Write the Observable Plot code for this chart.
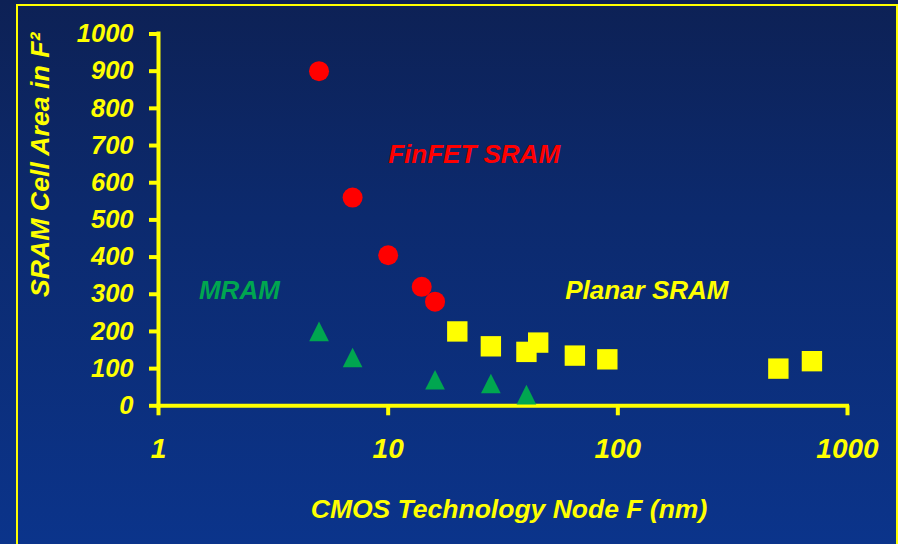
<!DOCTYPE html>
<html>
<head>
<meta charset="utf-8">
<script src="https://cdn.jsdelivr.net/npm/d3@7"></script>
<script src="https://cdn.jsdelivr.net/npm/@observablehq/plot@0.6"></script>
<style>
  html, body {
    margin: 0; padding: 0; width: 898px; height: 544px; overflow: hidden;
    background: linear-gradient(to bottom, #0d2155 0%, #0c2a6e 40%, #0b348b 100%);
  }
  #border {
    position: absolute; left: 16px; top: 4px; width: 882px; height: 640px;
    box-sizing: border-box; border: 2.5px solid #ffff00;
  }
  #chart { position: absolute; left: 0; top: 0; }
</style>
</head>
<body>
<div id="border"></div>
<div id="chart"></div>
<script>
// SRAM cell area (in F^2) versus CMOS technology node F (nm)
const finfetNode = [5, 7, 10, 14, 16];
const finfetArea = [900, 560, 405, 320, 280];

const mramNode = [5, 7, 16, 28, 40];
const mramArea = [200, 130, 70, 60, 30];

const planarNode = [20, 28, 40, 45, 65, 90, 500, 700];
const planarArea = [200, 160, 145, 170, 135, 125, 100, 120];

const xTicks = [1, 10, 100, 1000];
const yTicks = [0, 100, 200, 300, 400, 500, 600, 700, 800, 900, 1000];

// Series annotations, placed in data space
const seriesNames = ["FinFET SRAM", "MRAM", "Planar SRAM"];
const seriesLabelNode = [10, 1.5, 59];
const seriesLabelArea = [675, 310, 310];

const xTitle = "CMOS Technology Node F (nm)";
const yTitle = "SRAM Cell Area in F\u00B2";

const YELLOW = "#ffff00";
const RED = "#ff0000";
const GREEN = "#00a650";

const toRows = (xs, ys) => xs.map((x, i) => ({node: x, area: ys[i]}));
const finfet = toRows(finfetNode, finfetArea);
const mram = toRows(mramNode, mramArea);
const planar = toRows(planarNode, planarArea);
const seriesLabels = seriesNames.map((name, i) => ({name, node: seriesLabelNode[i], area: seriesLabelArea[i]}));

// Upward triangle centred on its bounding box (side = sqrt(size))
const triangleUp = {
  draw(context, size) {
    const s = Math.sqrt(size);
    context.moveTo(0, -s / 2);
    context.lineTo(s / 2, s / 2);
    context.lineTo(-s / 2, s / 2);
    context.closePath();
  }
};

const font = {fontFamily: "'Liberation Sans', Arial, sans-serif", fontWeight: "bold", fontStyle: "italic"};

const chart = Plot.plot({
  width: 898,
  height: 544,
  marginLeft: 158,
  marginRight: 51,
  marginTop: 33.5,
  marginBottom: 138.7,
  style: {background: "transparent", color: YELLOW, fontFamily: font.fontFamily, fontSize: "25px", fontWeight: "bold", fontStyle: "italic", overflow: "visible"},
  x: {type: "log", domain: [1, 1000]},
  y: {domain: [0, 1000]},
  marks: [
    Plot.axisY({ticks: yTicks, tickSize: 9, tickPadding: 16, strokeWidth: 4, label: null, fontSize: 25.5, tickFormat: d => String(d)}),
    Plot.axisX({ticks: xTicks, tickSize: 10, tickPadding: 22, strokeWidth: 4, label: null, fontSize: 28, tickFormat: d => String(d)}),
    Plot.ruleX([1], {y1: 0, y2: 1000, stroke: YELLOW, strokeWidth: 4, strokeLinecap: "square"}),
    Plot.ruleY([0], {x1: 1, x2: 1000, stroke: YELLOW, strokeWidth: 4, strokeLinecap: "square"}),
    Plot.dot(mram, {x: "node", y: "area", symbol: triangleUp, r: 11.1, fill: GREEN, stroke: null}),
    Plot.dot(planar, {x: "node", y: "area", symbol: "square", r: 11.5, fill: YELLOW, stroke: null}),
    Plot.dot(finfet, {x: "node", y: "area", r: 10, fill: RED, stroke: null}),
    Plot.text(seriesLabels, {
      x: "node", y: "area", text: "name", textAnchor: "start", lineAnchor: "middle",
      fill: d => d.name === "MRAM" ? GREEN : d.name === "FinFET SRAM" ? RED : YELLOW,
      fontSize: 26, ...font
    }),
    Plot.text([xTitle], {text: d => d, frameAnchor: "bottom", dx: 6, dy: 104, lineAnchor: "middle", fill: YELLOW, fontSize: 26.5, ...font}),
    Plot.text([yTitle], {text: d => d, frameAnchor: "left", rotate: -90, dx: -128, dy: -55, textAnchor: "middle", lineAnchor: "top", fill: YELLOW, fontSize: 26.7, ...font})
  ]
});

document.getElementById("chart").appendChild(chart);
</script>
</body>
</html>
